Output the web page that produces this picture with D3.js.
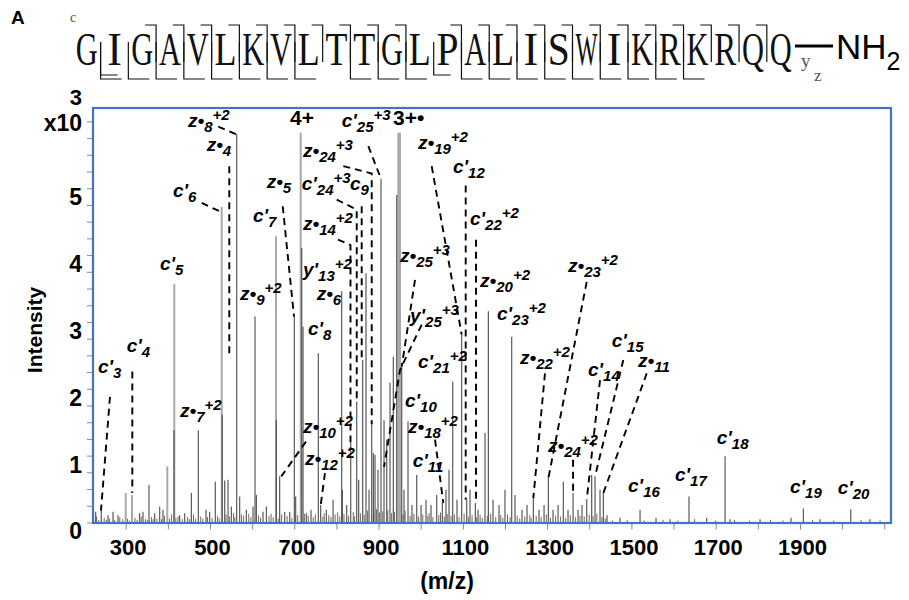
<!DOCTYPE html>
<html>
<head>
<meta charset="utf-8">
<script src="https://cdn.jsdelivr.net/npm/d3@7"></script>
<style>
  body { margin: 0; background: #fff; }
  svg text { font-family: "Liberation Sans", Arial, sans-serif; }
</style>
</head>
<body>
<svg id="chart" width="909" height="600"></svg>
<script>
// ---------- data ----------
const sequence = "GIGAVLKVLTTGLPALISWIKRKRQQ".split("");
// cleavage sites (index of the bond after residue k)
const cSites = [3, 4, 5, 6, 7, 8, 9, 10, 11, 12, 14, 15, 16, 17, 18, 19, 20, 21, 22, 23, 24, 25];
const zSites = [1, 2, 3, 4, 5, 6, 7, 8, 10, 11, 12, 14, 15, 16, 17, 18, 19, 20, 21, 22];
const ySites = [1, 13];

// spectrum: [m/z, intensity (x10^3)]
const peaks = [
  [228.8,0.16],[242.1,0.21],[258,0.11],[269.9,0.16],[281.7,0.11],[333,0.14],[341,0.16],[355.3,0.56],
  [368.8,0.14],[380.7,0.24],[388.5,0.19],[414.6,1.38],[428,0.11],[440,0.14],[455.7,0.44],[472.3,1.38],
  [490.6,0.19],[499.3,0.16],[512.6,0.61],[529.2,1.61],[535,0.63],[542.8,0.64],[550.6,0.24],[563.4,5.81],
  [570.5,0.39],[586.2,0.19],[602,0.24],[606.8,3.08],[610,0.41],[625.8,0.16],[633.7,0.24],[657.4,1.53],
  [665.4,0.69],[677.3,0.16],[689.2,0.16],[700.1,3.08],[703.4,0.39],[717.7,4.11],[720.8,2.93],[728.6,0.14],
  [739.7,0.19],[757,2.53],[762.7,0.26],[776,0.19],[792,0.34],[812.6,3.46],[814,0.49],[824.4,0.26],
  [834,1.19],[848.2,1.81],[852.9,0.64],[862.4,2.43],[870.2,3.73],[877.4,0.49],[883.8,1.47],[887.6,1.04],
  [891.6,1.01],[898.7,0.79],[905.8,5.14],[913,1.53],[919.4,1.24],[927.2,2.09],[935,2.48],[943.1,4.9],
  [955,2.33],[960.4,0.49],[969.9,1.51],[979.4,0.26],[990.6,0.71],[1000.8,0.26],[1012.6,0.34],[1024.5,0.26],
  [1038,0.41],[1051.3,0.29],[1060,0.49],[1067.2,0.79],[1076,2.11],[1086.2,0.34],[1097.3,2.81],[1109.2,0.34],
  [1117,0.49],[1129.6,0.29],[1136,0.19],[1152.6,1.34],[1160.5,3.16],[1171.6,0.34],[1185.9,0.26],[1200,0.49],
  [1216,2.78],[1223.8,0.41],[1240.4,0.19],[1252.3,0.26],[1267.3,0.36],[1280.8,0.19],[1292.7,0.26],[1302.9,0.69],
  [1314,0.19],[1325.9,0.26],[1338.4,0.61],[1349.6,0.19],[1361.5,0.44],[1373.3,0.19],[1382.8,0.26],[1394,0.34],
  [1405.8,0.71],[1413.7,0.69],[1425.5,0.49],[1433.4,0.44],[1442.2,0.11],[1473,0.07],[1520.5,0.19],[1558.4,0.07],
  [1591.6,0.05],[1636.7,0.39],[1678.7,0.07],[1722.2,0.99],[1734,0.05],[1805.3,0.05],[1878.8,0.07],[1908,0.21],
  [1947.6,0.05],[2020.5,0.2],[2066,0.05]
];
// broader, lighter-drawn peaks
const lightPeaks = [
  [300,0.44],[315,0.41],[398.7,0.84],[415.3,3.57],[527.8,4.72],[656.7,4.28],[715.3,5.83],[946.9,5.83],[950.9,5.83]
];
// baseline chemical noise
const noisePeaks = [
  [224,0.05],[231,0.09],[236,0.04],[249,0.07],[254,0.04],[262,0.06],[274,0.04],[286,0.08],[293,0.05],[304,0.06],
  [309,0.03],[322,0.07],[327,0.04],[337,0.09],[347,0.05],[352,0.04],[361,0.08],[365,0.05],[374,0.06],[385,0.05],
  [392,0.1],[404,0.06],[409,0.12],[419,0.07],[424,0.09],[434,0.05],[447,0.08],[451,0.05],[461,0.12],[466,0.06],
  [478,0.09],[483,0.06],[494,0.08],[505,0.07],[518,0.1],[522,0.06],[538,0.12],[546,0.09],[556,0.14],[559,0.08],
  [575,0.12],[580,0.1],[592,0.13],[597,0.08],[615,0.11],[620,0.07],[640,0.1],[645,0.13],[650,0.08],[662,0.06],
  [670,0.12],[683,0.1],[694,0.07],[708,0.11],[724,0.13],[733,0.1],[745,0.08],[750,0.12],[768,0.09],[771,0.14],
  [782,0.11],[787,0.08],[797,0.12],[803,0.15],[808,0.09],[818,0.13],[829,0.1],[840,0.16],[843,0.09],[857,0.14],
  [866,0.12],[874,0.18],[888,0.13],[895,0.2],[902,0.15],[910,0.17],[922,0.19],[931,0.14],[938,0.16],[958,0.12],
  [963,0.18],[975,0.1],[984,0.13],[995,0.09],[1005,0.12],[1017,0.1],[1020,0.14],[1029,0.08],[1043,0.11],[1047,0.15],
  [1056,0.09],[1063,0.13],[1072,0.1],[1080,0.12],[1091,0.08],[1103,0.13],[1113,0.09],[1122,0.11],[1133,0.08],[1141,0.12],
  [1146,0.07],[1158,0.1],[1166,0.13],[1178,0.08],[1190,0.11],[1195,0.07],[1206,0.12],[1212,0.08],[1229,0.1],[1235,0.06],
  [1247,0.09],[1259,0.11],[1262,0.07],[1274,0.1],[1286,0.08],[1298,0.12],[1308,0.07],[1320,0.1],[1332,0.09],[1344,0.07],
  [1355,0.11],[1367,0.08],[1378,0.1],[1388,0.09],[1400,0.12],[1409,0.1],[1418,0.13],[1430,0.08],[1438,0.06],[1455,0.03],
  [1490,0.04],[1530,0.03],[1575,0.04],[1610,0.03],[1650,0.05],[1700,0.03],[1745,0.04],[1780,0.03],[1830,0.04],[1860,0.03],
  [1930,0.04],[1980,0.03],[2045,0.04],[2090,0.03]
];

// fragment ion annotations: label anchor and leader path in (m/z, intensity)
const ionLabels = [
  {t:"c'", s:"3",  at:[234.3,2.24], lead:[[262.7,1.88],[241.4,0.18]]},
  {t:"c'", s:"4",  at:[302.4,2.55], lead:[[315.7,2.26],[315.7,0.44]]},
  {t:"c'", s:"5",  at:[381.4,3.78]},
  {t:"c'", s:"6",  at:[412.2,4.87], lead:[[480.3,4.78],[527.8,4.64]]},
  {t:"z•", s:"4",  at:[492.2,5.55], lead:[[545.8,5.33],[545.8,2.48]]},
  {t:"z•", s:"8",  p:"+2", at:[447.8,5.92], lead:[[519.7,5.92],[564.8,5.80]]},
  {t:"z•", s:"9",  p:"+2", at:[571.2,3.33]},
  {t:"c'", s:"7",  at:[602.1,4.49]},
  {t:"z•", s:"5",  at:[634.6,5.01], lead:[[672.6,4.73],[699.4,3.08]]},
  {t:"z•", s:"7",  p:"+2", at:[428.9,1.58]},
  {t:"c'", s:"25", p:"+3", at:[812.6,5.92], lead:[[875.7,5.63],[905.8,5.14]]},
  {t:"z•", s:"24", p:"+3", at:[720.7,5.47], lead:[[816.4,5.33],[883.8,5.22],[883.8,1.47]]},
  {t:"c'", s:"24", p:"+3", at:[717.7,4.98], lead:[[800.7,4.83],[848.2,4.68],[848.2,1.81]]},
  {t:"c",  s:"9",  at:[832,4.98], lead:[[860,4.73],[860,2.43]]},
  {t:"z•", s:"14", p:"+2", at:[720.7,4.38], lead:[[803.8,4.23],[833.4,4.15],[833.4,1.09]]},
  {t:"y'", s:"13", p:"+2", at:[720.7,3.68]},
  {t:"z•", s:"6",  at:[753.2,3.33]},
  {t:"c'", s:"8",  at:[732.6,2.81]},
  {t:"z•", s:"10", p:"+2", at:[720.7,1.34], lead:[[727.9,1.21],[669.2,0.69]]},
  {t:"z•", s:"12", p:"+2", at:[725.5,0.86], lead:[[772.9,0.74],[762.7,0.26]]},
  {t:"z•", s:"25", p:"+3", at:[950.9,3.90], lead:[[986.5,3.63],[955,2.33]]},
  {t:"y'", s:"25", p:"+3", at:[974.6,3.0],  lead:[[1002.4,2.96],[950.9,2.28],[913,0.83]]},
  {t:"z•", s:"19", p:"+2", at:[993.6,5.58], lead:[[1026.1,5.33],[1097.3,2.81]]},
  {t:"c'", s:"12", at:[1076.7,5.23], lead:[[1106.8,5.04],[1106.8,0.34]]},
  {t:"c'", s:"22", p:"+2", at:[1117,4.45], lead:[[1131.3,4.23],[1131.3,0.29]]},
  {t:"z•", s:"20", p:"+2", at:[1140.8,3.53]},
  {t:"c'", s:"23", p:"+2", at:[1181.1,3.03]},
  {t:"c'", s:"21", p:"+2", at:[993.6,2.31]},
  {t:"c'", s:"10", at:[962.8,1.73]},
  {t:"z•", s:"18", p:"+2", at:[969.9,1.34], lead:[[1034,1.24],[1053.7,0.29]]},
  {t:"c'", s:"11", at:[981,0.83]},
  {t:"z•", s:"22", p:"+2", at:[1235.6,2.37], lead:[[1294.9,2.23],[1267.2,0.36]]},
  {t:"z•", s:"23", p:"+2", at:[1349.5,3.75], lead:[[1393.9,3.60],[1302.9,0.66]]},
  {t:"z•", s:"24", p:"+2", at:[1302.1,1.06], lead:[[1361.5,0.94],[1361.5,0.44]]},
  {t:"c'", s:"14", at:[1397,2.19],   lead:[[1425.5,2.13],[1394,0.34]]},
  {t:"c'", s:"15", at:[1453.3,2.63], lead:[[1480.8,2.43],[1413.7,0.69]]},
  {t:"z•", s:"11", at:[1515.7,2.33], lead:[[1536.3,2.23],[1433.4,0.44]]},
  {t:"c'", s:"16", at:[1492,0.46]},
  {t:"c'", s:"17", at:[1603.5,0.62]},
  {t:"c'", s:"18", at:[1702.5,1.18]},
  {t:"c'", s:"19", at:[1876.3,0.44]},
  {t:"c'", s:"20", at:[1989.5,0.43]}
];
// precursor charge states
const chargeLabels = [
  {t:"4+",  at:[689.9,5.95]},
  {t:"3+•", at:[934.3,5.95]}
];

const xMajorTicks = d3.range(300, 2101, 100);
const xTickLabels = d3.range(300, 1901, 200);
const yMinorTicks = d3.range(0, 6.01, 0.25);
const yTickLabels = [0, 1, 2, 3, 4, 5];

// ---------- layout ----------
const svg = d3.select("#chart");
const frame = {left: 93, top: 108, right: 891, bottom: 522.5};
const x = d3.scaleLinear().domain([222.4, 2116]).range([frame.left, frame.right]);
const y = d3.scaleLinear().domain([0, 6.2]).range([frame.bottom, frame.top]);

// panel letter
svg.append("text").attr("x", 11).attr("y", 24)
  .attr("font-size", 19).attr("font-weight", "bold").text("A");

// ---------- peptide sequence with fragment map ----------
const seqG = svg.append("g");
const seqX = d3.scaleLinear().domain([0, sequence.length - 1]).range([86.7, 780.7]);
const bond = k => seqX(k - 0.5);
const maxGlyph = 22;

seqG.selectAll("text.aa").data(sequence).join("text")
  .attr("class", "aa")
  .attr("text-anchor", "middle")
  .style("font-family", "'Liberation Serif', 'Times New Roman', serif")
  .attr("font-size", 44)
  .attr("fill", "#111")
  .text(d => d)
  .each(function (d, i) {
    // squeeze wide glyphs so every residue fits one fixed cell
    const w = this.getComputedTextLength();
    const sx = Math.min(1, maxGlyph / w);
    d3.select(this).attr("transform", `translate(${seqX(i)},65) scale(${sx.toFixed(3)},1.05)`);
  });

seqG.selectAll("path.c").data(cSites).join("path")
  .attr("d", k => `M${bond(k) - 11},25H${bond(k)}V62`)
  .attr("fill", "none").attr("stroke", "#111").attr("stroke-width", 1.2);
seqG.selectAll("path.z").data(zSites).join("path")
  .attr("d", k => `M${bond(k)},42V79H${bond(k) + 21}`)
  .attr("fill", "none").attr("stroke", "#111").attr("stroke-width", 1.2);
seqG.selectAll("path.y").data(ySites).join("path")
  .attr("d", k => `M${bond(k)},42V75H${bond(k) + 17}`)
  .attr("fill", "none").attr("stroke", "#111").attr("stroke-width", 1.2);

seqG.append("text").attr("x", 70).attr("y", 22)
  .style("font-family", "'Liberation Serif', serif").attr("font-size", 14).attr("fill", "#555").text("c");
seqG.append("text").attr("x", 801).attr("y", 67)
  .style("font-family", "'Liberation Serif', serif").attr("font-size", 19).attr("fill", "#555").text("y");
seqG.append("text").attr("x", 814).attr("y", 81)
  .style("font-family", "'Liberation Serif', serif").attr("font-size", 17).attr("fill", "#555").text("z");
seqG.append("line").attr("x1", 795).attr("x2", 833).attr("y1", 46).attr("y2", 46)
  .attr("stroke", "#000").attr("stroke-width", 3);
const nh2 = seqG.append("text").attr("x", 836).attr("y", 59).attr("font-size", 35);
nh2.append("tspan").text("NH");
nh2.append("tspan").attr("font-size", 25).attr("dy", 11).text("2");

// ---------- spectrum ----------
const plot = svg.append("g");
const stick = (sel, data) => sel.selectAll(null).data(data).join("line")
  .attr("x1", d => x(d[0])).attr("x2", d => x(d[0]))
  .attr("y1", y(0)).attr("y2", d => y(d[1]));

stick(plot.append("g").attr("stroke", "#6a6a6a").attr("stroke-width", 1), noisePeaks);
stick(plot.append("g").attr("stroke", "#a9a9a9").attr("stroke-width", 2), lightPeaks);
stick(plot.append("g").attr("stroke", "#4a4a4a").attr("stroke-width", 1.1), peaks);

// axes
const yAxis = d3.axisLeft(y).tickValues(yMinorTicks).tickSize(5).tickFormat("");
svg.append("g").attr("transform", `translate(${frame.left - 1},0)`).call(yAxis)
  .call(g => g.select(".domain").remove())
  .call(g => g.selectAll("line").attr("stroke", "#888"));
const yLab = d3.axisLeft(y).tickValues(yTickLabels).tickSize(0).tickPadding(11).tickFormat(d3.format("d"));
svg.append("g").attr("transform", `translate(${frame.left},0)`).call(yLab)
  .call(g => g.select(".domain").remove())
  .call(g => g.selectAll("text").attr("font-size", 23).attr("font-weight", "bold")
    .attr("fill", "#000").attr("dy", "0.32em").attr("transform", "translate(0,9)")
    .style("font-family", "'Liberation Sans', Arial, sans-serif"));

const xAxis = d3.axisBottom(x).tickValues(xMajorTicks).tickSize(6).tickFormat("");
svg.append("g").attr("transform", `translate(0,${frame.bottom + 1})`).call(xAxis)
  .call(g => g.select(".domain").remove())
  .call(g => g.selectAll("line").attr("stroke", "#888"));
const xLab = d3.axisBottom(x).tickValues(xTickLabels).tickSize(0).tickPadding(17).tickFormat(d3.format("d"));
svg.append("g").attr("transform", `translate(2,${frame.bottom})`).call(xLab)
  .call(g => g.select(".domain").remove())
  .call(g => g.selectAll("text").attr("font-size", 22).attr("font-weight", "bold").attr("fill", "#000")
    .style("font-family", "'Liberation Sans', Arial, sans-serif"));

// frame
svg.append("rect").attr("x", frame.left).attr("y", frame.top)
  .attr("width", frame.right - frame.left).attr("height", frame.bottom - frame.top + 0.5)
  .attr("fill", "none").attr("stroke", "#4472c4").attr("stroke-width", 2.2);

// scale multiplier
const mult = svg.append("g").attr("font-weight", "bold").attr("text-anchor", "end");
mult.append("text").attr("x", 82).attr("y", 105).attr("font-size", 22).text("3");
mult.append("text").attr("x", 82).attr("y", 131).attr("font-size", 23).text("x10");

// axis titles
svg.append("text").attr("transform", "translate(42,330) rotate(-90)")
  .attr("text-anchor", "middle").attr("font-size", 21).attr("font-weight", "bold").text("Intensity");
svg.append("text").attr("x", 447).attr("y", 589)
  .attr("text-anchor", "middle").attr("font-size", 23).attr("font-weight", "bold").text("(m/z)");

// ---------- annotations ----------
const ann = svg.append("g");
const leader = d3.line().x(d => x(d[0])).y(d => y(d[1]));
ann.selectAll("path").data(ionLabels.filter(d => d.lead)).join("path")
  .attr("d", d => leader(d.lead))
  .attr("fill", "none").attr("stroke", "#000").attr("stroke-width", 1.9)
  .attr("stroke-dasharray", "7,5");

ionLabels.forEach(a => {
  const t = ann.append("text").attr("x", x(a.at[0])).attr("y", y(a.at[1]))
    .attr("font-size", 19).attr("font-weight", "bold").attr("font-style", "italic");
  t.append("tspan").text(a.t);
  t.append("tspan").attr("font-size", 15).attr("dy", 5).text(a.s);
  if (a.p) t.append("tspan").attr("font-size", 15).attr("dy", -12).text(a.p);
});

ann.selectAll("text.charge").data(chargeLabels).join("text")
  .attr("class", "charge")
  .attr("x", d => x(d.at[0])).attr("y", d => y(d.at[1]))
  .attr("font-size", 21).attr("font-weight", "bold").text(d => d.t);
</script>
</body>
</html>
